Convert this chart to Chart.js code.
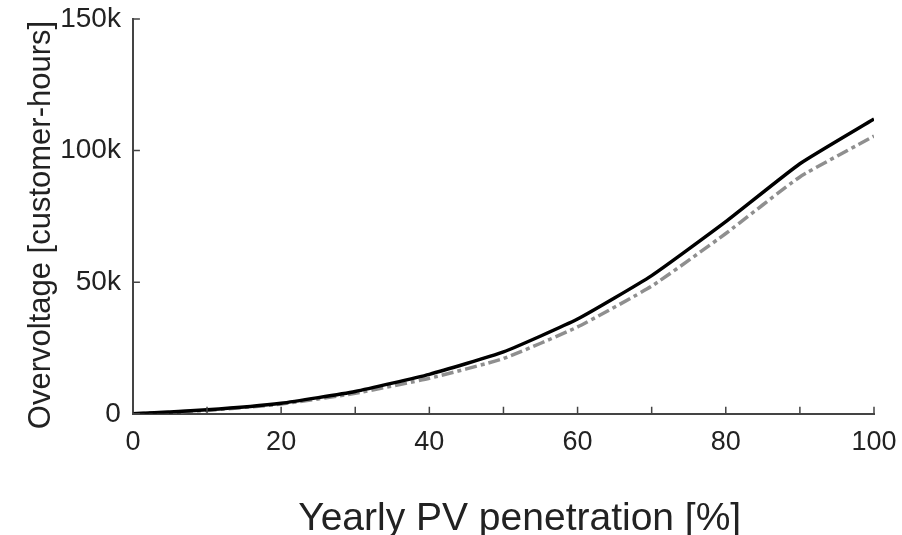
<!DOCTYPE html>
<html lang="en">
<head>
    <meta charset="UTF-8">
    <title>Overvoltage vs PV penetration</title>
    <script src="https://cdn.jsdelivr.net/npm/chart.js"></script>
    <style>
        html, body { margin: 0; padding: 0; background: #ffffff; }
        .chart-container { width: 902px; height: 535px; }
    </style>
</head>
<body>
    <div class="chart-container">
        <canvas id="overvoltageChart"></canvas>
    </div>

    <script>
        // PV penetration [%]
        const penetration = [0, 10, 20, 30, 40, 50, 60, 70, 80, 90, 100];
        // overvoltage [customer-hours], solid black curve
        const solidSeries = [0, 1500, 4000, 8500, 15000, 23500, 36000, 52500, 73000, 95000, 112000];
        // overvoltage [customer-hours], grey dash-dot curve
        const dashDotSeries = [0, 1300, 3700, 7800, 13500, 21000, 33000, 48500, 68500, 90000, 105500];
        const yTickLabels = { 0: '0', 50000: '50k', 100000: '100k', 150000: '150k' };

        // short inward ticks, like the original figure
        const inwardTicks = {
            id: 'inwardTicks',
            afterDraw(chart) {
                const ctx = chart.ctx;
                const x = chart.scales.x;
                const y = chart.scales.y;
                ctx.save();
                ctx.strokeStyle = '#444444';
                ctx.lineWidth = 1.5;
                ctx.beginPath();
                x.ticks.forEach(t => {
                    const px = x.getPixelForValue(t.value);
                    ctx.moveTo(px, y.bottom);
                    ctx.lineTo(px, y.bottom - 7);
                });
                y.ticks.forEach(t => {
                    const py = y.getPixelForValue(t.value);
                    ctx.moveTo(x.left, py);
                    ctx.lineTo(x.left + 7, py);
                });
                ctx.stroke();
                ctx.restore();
            }
        };

        const ctx = document.getElementById('overvoltageChart').getContext('2d');
        new Chart(ctx, {
            type: 'line',
            data: {
                datasets: [
                    {
                        label: 'Solid',
                        data: penetration.map((p, i) => ({ x: p, y: solidSeries[i] })),
                        borderColor: '#000000',
                        borderWidth: 3.5,
                        pointRadius: 0,
                        fill: false,
                        tension: 0.15
                    },
                    {
                        label: 'Dash-dot',
                        data: penetration.map((p, i) => ({ x: p, y: dashDotSeries[i] })),
                        borderColor: '#8f8f8f',
                        borderWidth: 3.5,
                        borderDash: [12, 4, 4, 4],
                        pointRadius: 0,
                        fill: false,
                        tension: 0.15
                    }
                ]
            },
            options: {
                responsive: true,
                maintainAspectRatio: false,
                animation: false,
                layout: { padding: { top: 0, right: 0, left: 23, bottom: -8 } },
                plugins: {
                    legend: { display: false },
                    tooltip: { enabled: false }
                },
                scales: {
                    x: {
                        type: 'linear',
                        min: 0,
                        max: 100,
                        afterFit: s => { s.paddingRight = 28; },
                        grid: { display: false, drawTicks: false },
                        border: { color: '#444444', width: 2 },
                        ticks: {
                            stepSize: 10,
                            padding: 13,
                            color: '#222222',
                            font: { family: 'Liberation Sans', size: 27 },
                            maxRotation: 0,
                            autoSkip: false,
                            callback: v => (v % 20 === 0 ? String(v) : '')
                        },
                        title: {
                            display: true,
                            text: '   Yearly PV penetration [%]',
                            color: '#222222',
                            font: { family: 'Liberation Sans', size: 39 },
                            padding: { top: 24, bottom: 0 }
                        }
                    },
                    y: {
                        min: 0,
                        max: 150000,
                        afterFit: s => { s.paddingTop = 19; },
                        grid: { display: false, drawTicks: false },
                        border: { color: '#444444', width: 2 },
                        ticks: {
                            stepSize: 50000,
                            padding: 12,
                            color: '#222222',
                            font: { family: 'Liberation Sans', size: 28 },
                            callback: v => yTickLabels[v]
                        },
                        title: {
                            display: true,
                            text: 'Overvoltage [customer-hours]  ',
                            color: '#222222',
                            font: { family: 'Liberation Sans', size: 31 },
                            padding: { top: 0, bottom: -12 }
                        }
                    }
                }
            },
            plugins: [inwardTicks]
        });
    </script>
</body>
</html>
